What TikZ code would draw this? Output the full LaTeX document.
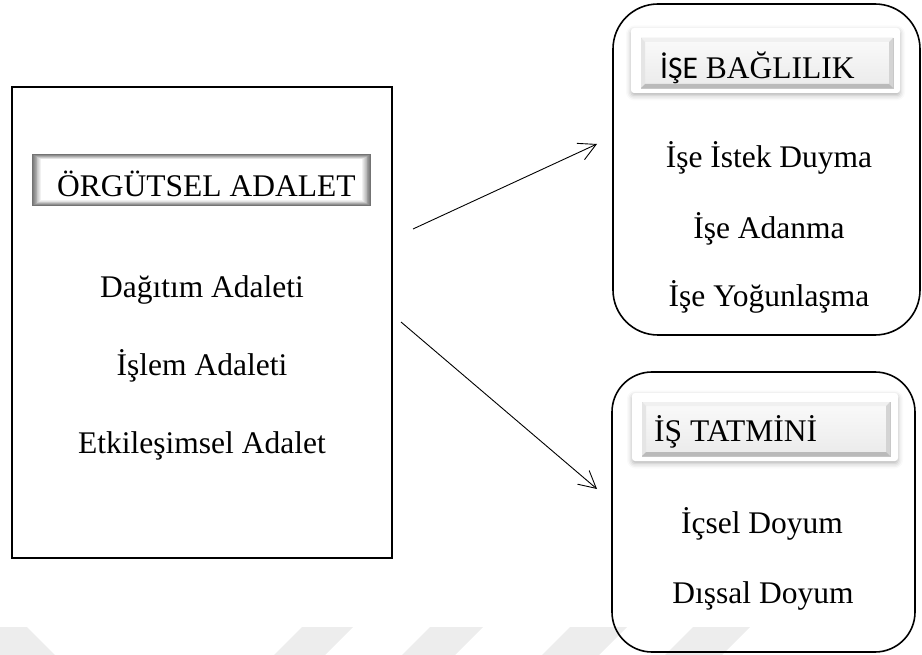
\documentclass[tikz,border=0pt]{standalone}
\usepackage{fontspec}
\setmainfont{Liberation Serif}
\newfontfamily\headsans{Carlito}
\usetikzlibrary{arrows.meta,calc,shadows.blur}

\tikzset{
  frame/.style={draw, line width=1.6pt, inner sep=0pt, outer sep=0pt, anchor=north west},
  itemtext/.style={font=\fontsize{31.5}{36}\selectfont, inner sep=0pt, anchor=base},
  headtext/.style={font=\fontsize{31.5}{36}\selectfont, inner sep=0pt, anchor=base west},
  barspace/.style={inner sep=0pt, outer sep=0pt, anchor=north west},
  glowcase/.style={barspace, fill=white, rounded corners=3pt,
    blur shadow={shadow xshift=0pt, shadow yshift=-2.5pt, shadow blur radius=5pt, shadow opacity=30}},
  bevelface/.style={barspace, top color=black!2, bottom color=black!8, draw=black!22, line width=0.4pt},
  link/.style={line width=0.9pt, -{Straight Barb[length=17pt,width=18pt,line width=0.9pt]}},
  wmark/.style={fill=black!7, draw=none},
}

% raised bevel on a face node: light top/left edges, darker bottom/right edges
\newcommand{\bevelon}[1]{%
  \fill[white!94!black] (#1.north west) -- (#1.north east) -- ($(#1.north east)+(-4,4)$) -- ($(#1.north west)+(4,4)$) -- cycle;
  \fill[black!10] (#1.north west) -- ($(#1.north west)+(4,4)$) -- ($(#1.south west)+(4,-4)$) -- (#1.south west) -- cycle;
  \fill[black!17] (#1.north east) -- (#1.south east) -- ($(#1.south east)+(-4,-4)$) -- ($(#1.north east)+(-4,4)$) -- cycle;
  \fill[black!27] (#1.south west) -- ($(#1.south west)+(4,-4)$) -- ($(#1.south east)+(-4,-4)$) -- (#1.south east) -- cycle;
}

\begin{document}
\begin{tikzpicture}[x=1pt, y=-1pt]
\useasboundingbox (0,0) rectangle (922,655);

% faint stripes along the bottom edge
\fill[wmark] (-20,627) -- (27,627) -- (55,655) -- (-20,655) -- cycle;
\fill[wmark] (302,627) -- (353,627) -- (325,655) -- (274,655) -- cycle;
\fill[wmark] (430,627) -- (483,627) -- (455,655) -- (402,655) -- cycle;
\fill[wmark] (570,627) -- (627,627) -- (599,655) -- (542,655) -- cycle;
\fill[wmark] (693,627) -- (750,627) -- (722,655) -- (665,655) -- cycle;

% ---------- left block: organisational justice ----------
\node[frame, line width=1.8pt, minimum width=380, minimum height=471] (orgbox) at (12,87) {};

\node[barspace, minimum width=339, minimum height=52] (orgbar) at (32,154) {};
\foreach \i [evaluate=\i as \c using {55-5.5*\i}] in {0,...,10}
  \fill[black!\c] ($(orgbar.north west)+(\i*0.9,\i*0.55)$) rectangle ($(orgbar.south east)+(-\i*0.9,-\i*0.55)$);
\node[headtext] (orgtitle) at (57,197) {ÖRGÜTSEL ADALET};

\node[itemtext] (dagitim) at (202,298) {Dağıtım Adaleti};
\node[itemtext] (islem)   at (202,375) {İşlem Adaleti};
\node[itemtext] (etkile)  at (202,453) {Etkileşimsel Adalet};

% ---------- right top block: work engagement ----------
\node[frame, rounded corners=45pt, minimum width=307, minimum height=331] (bagbox) at (613,4) {};
\node[glowcase, minimum width=269, minimum height=65] (bagglow) at (631,28) {};
\node[bevelface, minimum width=252, minimum height=50] (bagface) at (641,38) {};
\bevelon{bagface}
\node[headtext] (bagtitle) at (660,79) {{\headsans İŞE} BAĞLILIK};

\node[itemtext] (istek)  at (769,168) {İşe İstek Duyma};
\node[itemtext] (adanma) at (769,239) {İşe Adanma};
\node[itemtext] (yogun)  at (769,307) {İşe Yoğunlaşma};

% ---------- right bottom block: job satisfaction ----------
\node[frame, rounded corners=40pt, minimum width=303, minimum height=280] (tatbox) at (612,372) {};
\node[glowcase, minimum width=266, minimum height=68] (tatglow) at (632,393) {};
\node[bevelface, minimum width=248, minimum height=54] (tatface) at (642,402) {};
\bevelon{tatface}
\node[headtext] (tattitle) at (654,441) {İŞ TATMİNİ};

\node[itemtext] (icsel) at (762,533) {İçsel Doyum};
\node[itemtext] (dissal) at (763,603) {Dışsal Doyum};

% ---------- connectors ----------
\coordinate (upfrom) at (413,229);
\coordinate (upto)   at (597,144);
\coordinate (dnfrom) at (401,322);
\coordinate (dnto)   at (597,489);
\draw[link] (upfrom) -- (upto);
\draw[link] (dnfrom) -- (dnto);
\end{tikzpicture}
\end{document}
